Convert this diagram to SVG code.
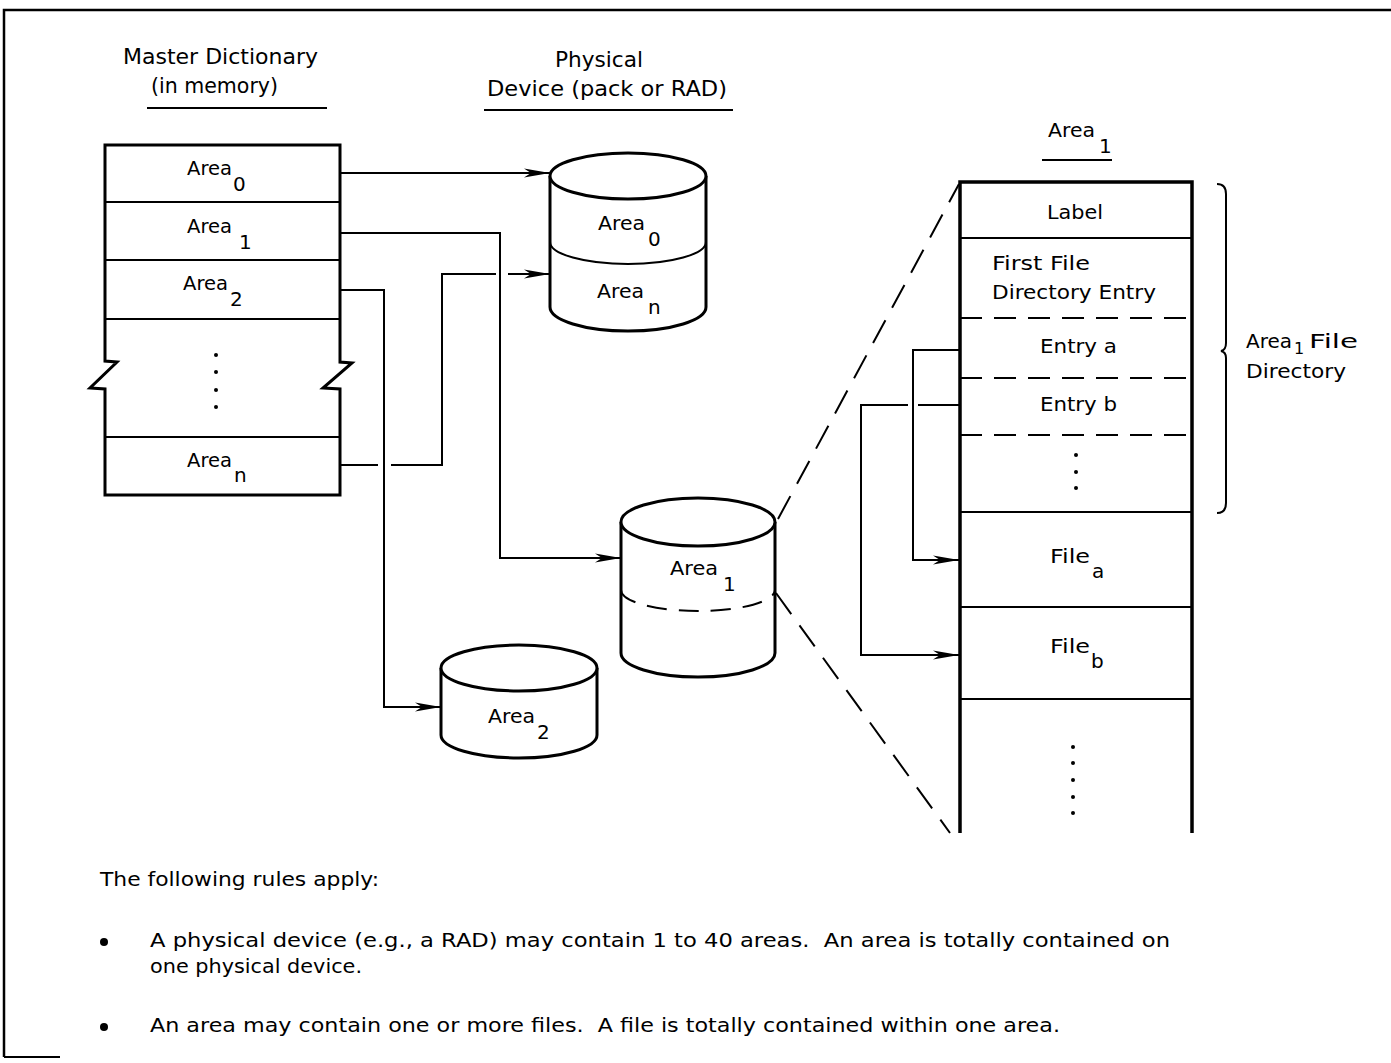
<svg xmlns="http://www.w3.org/2000/svg" width="1391" height="1063" viewBox="0 0 1391 1063">
<defs>
<style>
.t{font-family:"DejaVu Sans","Liberation Sans",sans-serif;font-size:20px;fill:#000}
.h{font-size:21px}
.b{font-size:20px}
.box{fill:#fff;stroke:#000;stroke-width:3;stroke-linejoin:miter}
.row{stroke:#000;stroke-width:2;fill:none}
.dash{stroke-dasharray:22 12}
.conn{fill:none;stroke:#000;stroke-width:2}
.proj{fill:none;stroke:#000;stroke-width:2;stroke-dasharray:26 14}
.cyl{fill:#fff;stroke:#000;stroke-width:3}
.dot{fill:#000}
</style>
<marker id="arr" markerUnits="userSpaceOnUse" viewBox="0 0 26 10" markerWidth="26" markerHeight="10" refX="26" refY="5" orient="auto">
<path d="M0,0.5 L26,5 L0,9.5 L7,5 Z" fill="#000"/>
</marker>
</defs>
<rect x="0" y="0" width="1391" height="1063" fill="#fff"/>

<g id="frame" class="row" stroke-width="2.5">
<path d="M4,1057 V10 H1391" stroke-width="2.5"/>
<path d="M4,1057 H60"/>
</g>

<g id="titles" class="t h">
<text x="123" y="64" textLength="195" lengthAdjust="spacingAndGlyphs">Master Dictionary</text>
<text x="151" y="93" textLength="127" lengthAdjust="spacingAndGlyphs">(in memory)</text>
<line class="row" x1="147" y1="108" x2="327" y2="108"/>
<text x="555" y="67" textLength="88" lengthAdjust="spacingAndGlyphs">Physical</text>
<text x="487" y="96" textLength="240" lengthAdjust="spacingAndGlyphs">Device (pack or RAD)</text>
<line class="row" x1="484" y1="110" x2="733" y2="110"/>
</g>

<g id="master-dictionary">
<path class="box" d="M105,145 H340 V362 L352,363 L323,388 L340,389 V495 H105 V389 L90,388 L117,362 L105,361 Z"/>
<line class="row" x1="105" y1="202" x2="340" y2="202"/>
<line class="row" x1="105" y1="260" x2="340" y2="260"/>
<line class="row" x1="105" y1="319" x2="340" y2="319"/>
<line class="row" x1="105" y1="437" x2="340" y2="437"/>
<g class="t">
<text x="187" y="175" textLength="45" lengthAdjust="spacingAndGlyphs">Area</text><text x="233" y="191">0</text>
<text x="187" y="233" textLength="45" lengthAdjust="spacingAndGlyphs">Area</text><text x="239" y="249">1</text>
<text x="183" y="290" textLength="45" lengthAdjust="spacingAndGlyphs">Area</text><text x="230" y="306">2</text>
<text x="187" y="467" textLength="45" lengthAdjust="spacingAndGlyphs">Area</text><text x="234" y="482">n</text>
</g>
<circle class="dot" cx="216" cy="355" r="2"/>
<circle class="dot" cx="216" cy="372" r="2"/>
<circle class="dot" cx="216" cy="390" r="2"/>
<circle class="dot" cx="216" cy="407" r="2"/>
</g>

<g id="device-area0-arean">
<path class="cyl" d="M550,176 V307 A78,24 0 0 0 706,307 V176"/>
<ellipse class="cyl" cx="628" cy="176" rx="78" ry="23"/>
<path class="row" stroke-width="2.5" d="M550,242 A78,22 0 0 0 706,242"/>
<g class="t">
<text x="598" y="230" textLength="47" lengthAdjust="spacingAndGlyphs">Area</text><text x="648" y="246">0</text>
<text x="597" y="298" textLength="47" lengthAdjust="spacingAndGlyphs">Area</text><text x="648" y="314">n</text>
</g>
</g>

<g id="device-area1">
<path class="cyl" d="M621,522 V653 A77,24 0 0 0 775,653 V522"/>
<ellipse class="cyl" cx="698" cy="522" rx="77" ry="24"/>
<path class="row" stroke-width="2.5" stroke-dasharray="20 12" d="M621,590 A77,21 0 0 0 775,590"/>
<g class="t"><text x="670" y="575" textLength="48" lengthAdjust="spacingAndGlyphs">Area</text><text x="723" y="591">1</text></g>
</g>

<g id="device-area2">
<path class="cyl" d="M441,668 V735 A78,23 0 0 0 597,735 V668"/>
<ellipse class="cyl" cx="519" cy="668" rx="78" ry="23"/>
<g class="t"><text x="488" y="723" textLength="47" lengthAdjust="spacingAndGlyphs">Area</text><text x="537" y="739">2</text></g>
</g>

<g id="area1-detail">
<g class="t"><text x="1048" y="137" textLength="47" lengthAdjust="spacingAndGlyphs">Area</text><text x="1099" y="153">1</text></g>
<line class="row" x1="1042" y1="160" x2="1112" y2="160"/>
<path d="M960,833 V182 H1192 V833" style="fill:none;stroke:#000;stroke-width:3.5"/>
<line class="row" x1="960" y1="238" x2="1192" y2="238"/>
<line class="row dash" x1="960" y1="318" x2="1192" y2="318"/>
<line class="row dash" x1="960" y1="378" x2="1192" y2="378"/>
<line class="row dash" x1="960" y1="435" x2="1192" y2="435"/>
<line class="row" x1="960" y1="512" x2="1192" y2="512"/>
<line class="row" x1="960" y1="607" x2="1192" y2="607"/>
<line class="row" x1="960" y1="699" x2="1192" y2="699" stroke-width="3"/>
<g class="t b">
<text x="1075" y="219" text-anchor="middle" textLength="56" lengthAdjust="spacingAndGlyphs">Label</text>
<text x="992" y="270" textLength="98" lengthAdjust="spacingAndGlyphs">First File</text>
<text x="992" y="299" textLength="164" lengthAdjust="spacingAndGlyphs">Directory Entry</text>
<text x="1040" y="353" textLength="77" lengthAdjust="spacingAndGlyphs">Entry a</text>
<text x="1040" y="411" textLength="77" lengthAdjust="spacingAndGlyphs">Entry b</text>
<text x="1050" y="563" textLength="40" lengthAdjust="spacingAndGlyphs">File</text><text x="1092" y="578">a</text>
<text x="1050" y="653" textLength="40" lengthAdjust="spacingAndGlyphs">File</text><text x="1091" y="668">b</text>
</g>
<circle class="dot" cx="1076" cy="455" r="2"/>
<circle class="dot" cx="1076" cy="472" r="2"/>
<circle class="dot" cx="1076" cy="488" r="2"/>
<circle class="dot" cx="1073" cy="747" r="2"/>
<circle class="dot" cx="1073" cy="763" r="2"/>
<circle class="dot" cx="1073" cy="780" r="2"/>
<circle class="dot" cx="1073" cy="797" r="2"/>
<circle class="dot" cx="1073" cy="813" r="2"/>
</g>

<g id="directory-brace">
<path class="row" stroke-width="2.5" d="M1217,184 Q1226,184 1226,194 V343 Q1226,350 1221,351 Q1226,352 1226,358 V503 Q1226,513 1217,513"/>
<g class="t b">
<text x="1246" y="348" textLength="46" lengthAdjust="spacingAndGlyphs">Area</text><text x="1294" y="354" font-size="16">1</text>
<text x="1309" y="348" textLength="49" lengthAdjust="spacingAndGlyphs">File</text>
<text x="1246" y="378" textLength="100" lengthAdjust="spacingAndGlyphs">Directory</text>
</g>
</g>

<g id="connectors">
<path class="conn" marker-end="url(#arr)" d="M340,173 H550"/>
<path class="conn" marker-end="url(#arr)" d="M340,233 H500 V558 H621"/>
<path class="conn" marker-end="url(#arr)" d="M340,290 H384 V707 H441"/>
<path class="conn" marker-end="url(#arr)" d="M340,465 H378 M391,465 H442 V274 H496 M508,274 H550"/>
<path class="conn" marker-end="url(#arr)" d="M960,350 H913 V560 H959"/>
<path class="conn" marker-end="url(#arr)" d="M960,405 H918 M908,405 H861 V655 H959"/>
<path class="proj" d="M778,519 L959,184"/>
<path class="proj" d="M776,593 L950,833"/>
</g>

<g id="rules" class="t b">
<text x="100" y="886" textLength="279" lengthAdjust="spacingAndGlyphs">The following rules apply:</text>
<circle class="dot" cx="104" cy="942" r="4"/>
<text x="150" y="947" textLength="1020" lengthAdjust="spacingAndGlyphs">A physical device (e.g., a RAD) may contain 1 to 40 areas.&#160; An area is totally contained on</text>
<text x="150" y="973" textLength="212" lengthAdjust="spacingAndGlyphs">one physical device.</text>
<circle class="dot" cx="104" cy="1027" r="4"/>
<text x="150" y="1032" textLength="910" lengthAdjust="spacingAndGlyphs">An area may contain one or more files.&#160; A file is totally contained within one area.</text>
</g>
</svg>
